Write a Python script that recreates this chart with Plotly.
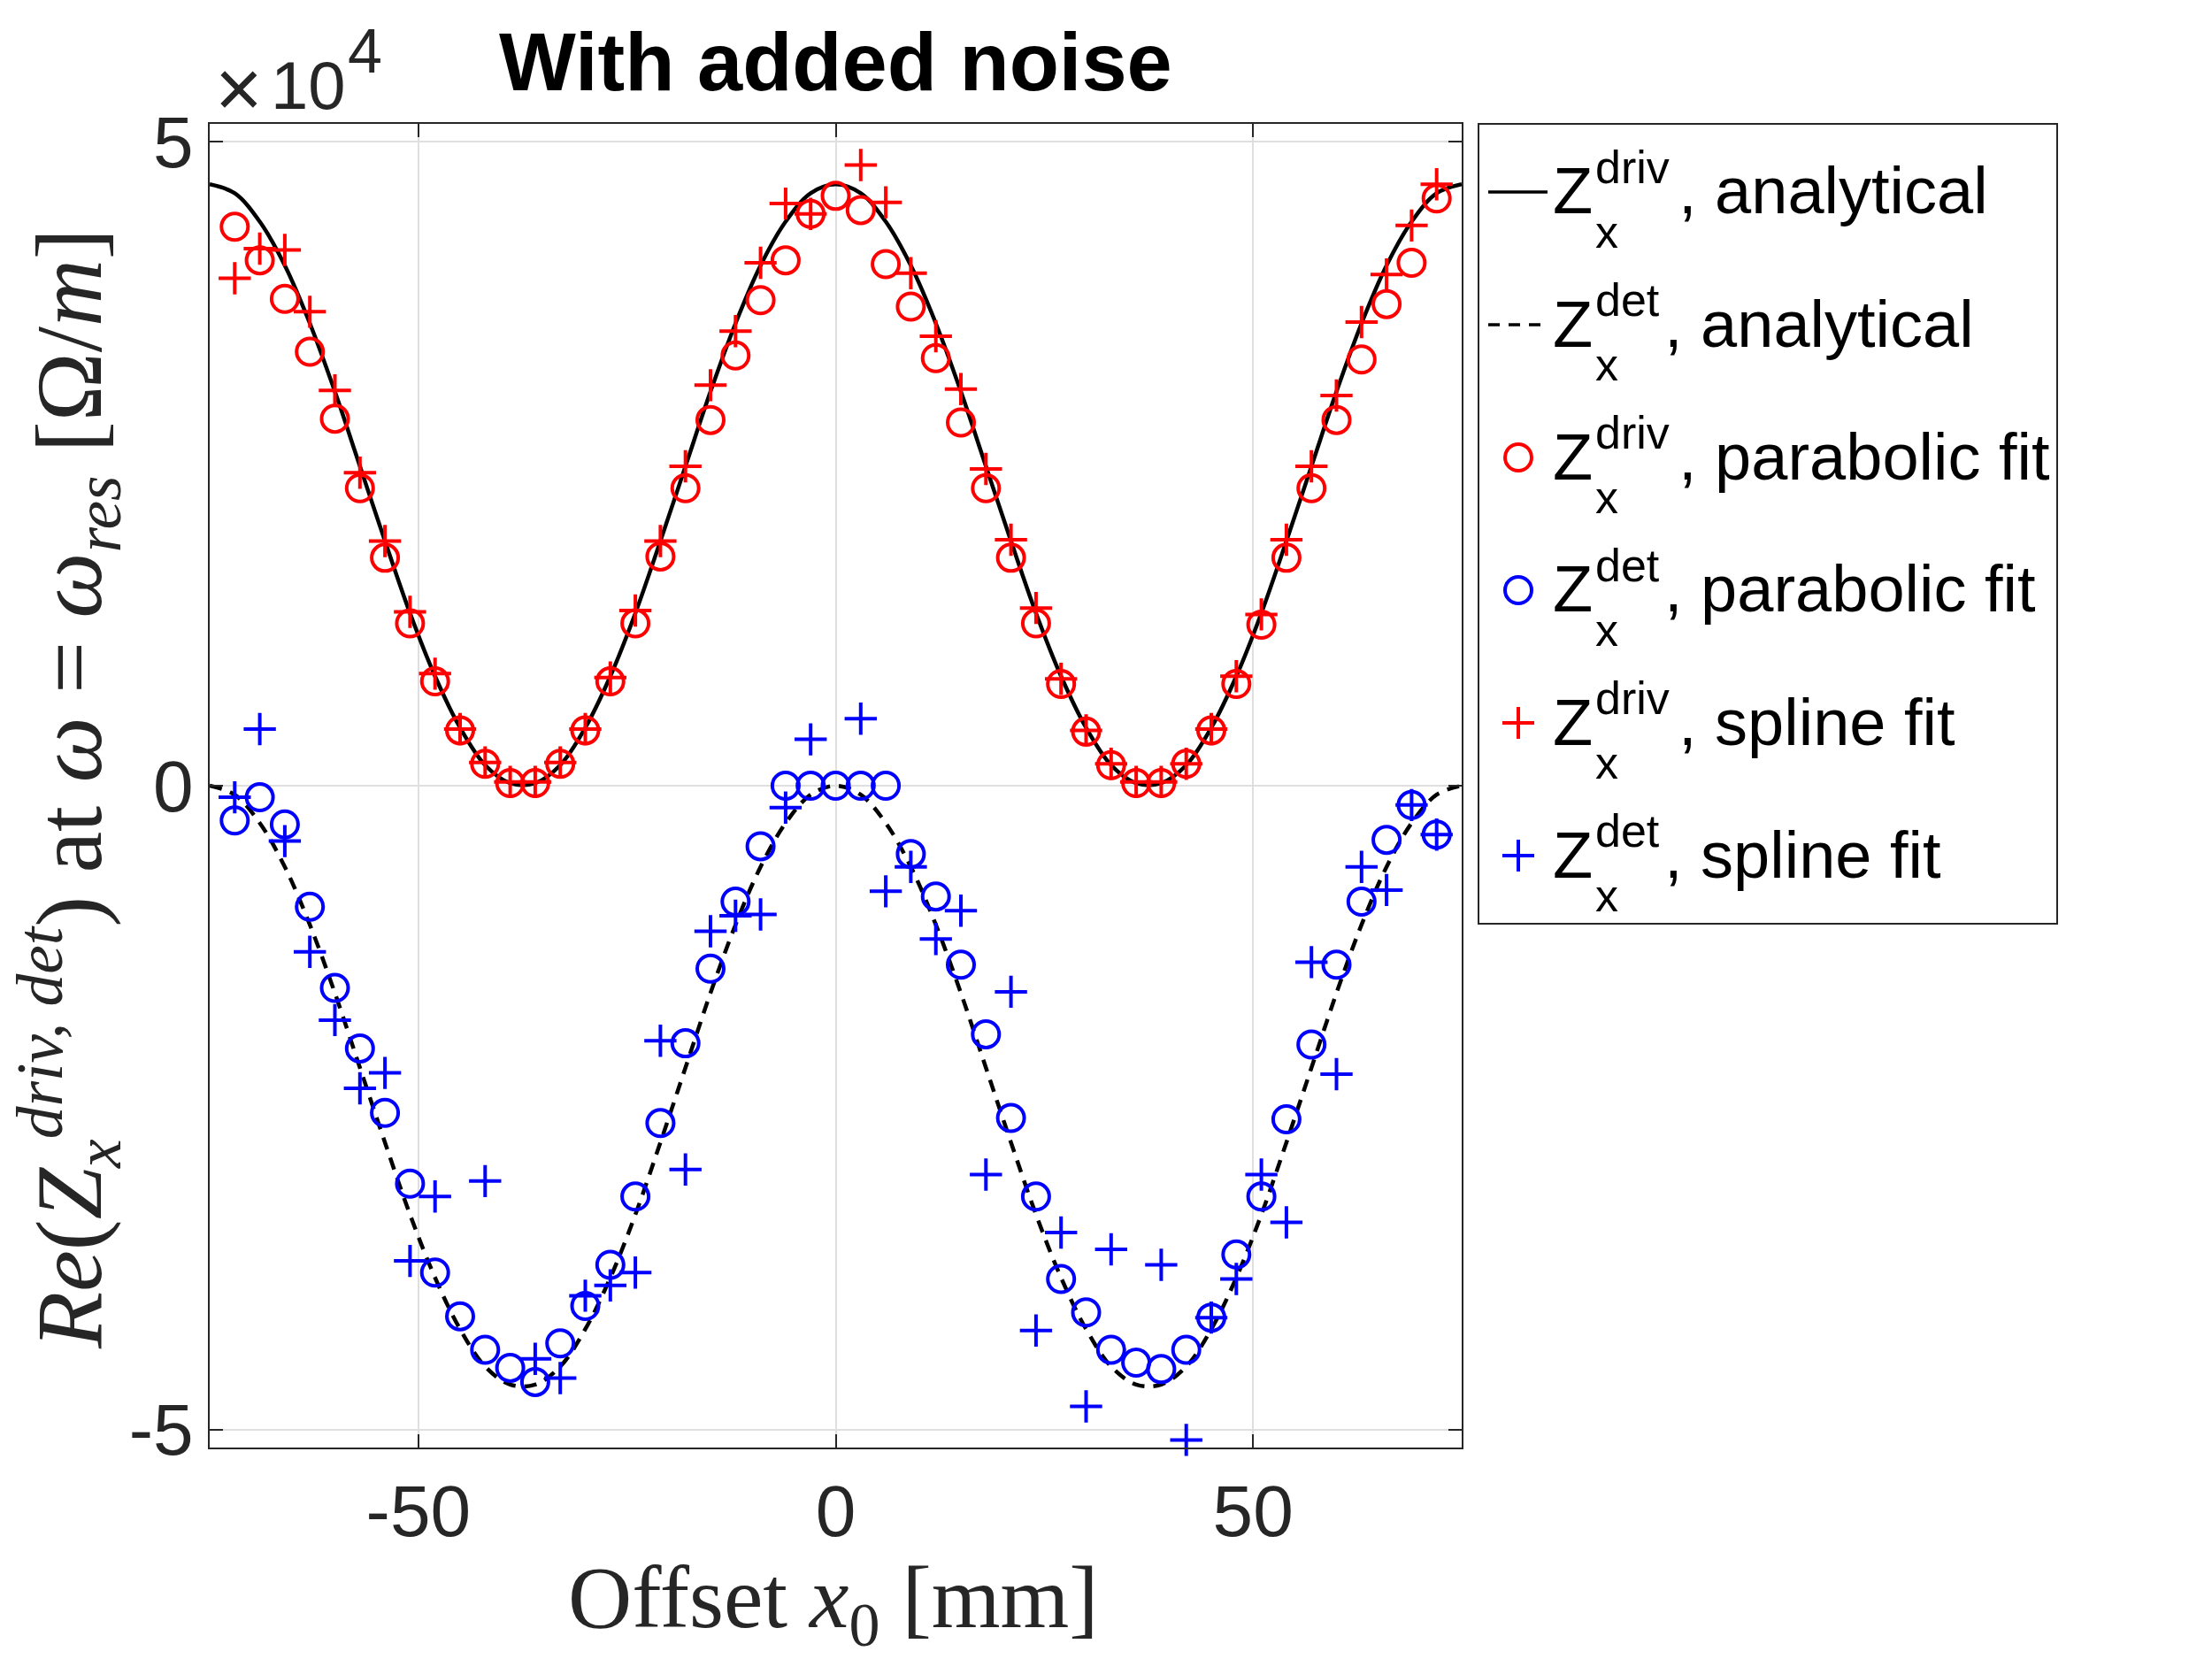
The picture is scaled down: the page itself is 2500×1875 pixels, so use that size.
import plotly.graph_objects as go

# ---------------- data ----------------
x_analytic = [-75, -72, -69, -66, -63, -60, -57, -54, -51, -48, -45, -42, -39, -36, -33, -30,
              -27, -24, -21, -18, -15, -12, -9, -6, -3, 0, 3, 6, 9, 12, 15, 18, 21, 24, 27,
              30, 33, 36, 39, 42, 45, 48, 51, 54, 57, 60, 63, 66, 69, 72, 75]
driv_analytic = [46700, 46000, 43800, 40400, 35900, 30600, 24800, 19000, 13400, 8500, 4500, 1600,
                 200, 200, 1600, 4500, 8500, 13400, 19000, 24800, 30600, 35900, 40400, 43800,
                 46000, 46700, 46000, 43800, 40400, 35900, 30600, 24800, 19000, 13400, 8500,
                 4500, 1600, 200, 200, 1600, 4500, 8500, 13400, 19000, 24800, 30600, 35900,
                 40400, 43800, 46000, 46700]
det_analytic = [0, -700, -2900, -6300, -10800, -16100, -21900, -27700, -33300, -38200, -42200,
                -45100, -46500, -46500, -45100, -42200, -38200, -33300, -27700, -21900, -16100,
                -10800, -6300, -2900, -700, 0, -700, -2900, -6300, -10800, -16100, -21900,
                -27700, -33300, -38200, -42200, -45100, -46500, -46500, -45100, -42200, -38200,
                -33300, -27700, -21900, -16100, -10800, -6300, -2900, -700, 0]

x_fit = [-72, -69, -66, -63, -60, -57, -54, -51, -48, -45, -42, -39, -36, -33, -30, -27, -24,
         -21, -18, -15, -12, -9, -6, -3, 0, 3, 6, 9, 12, 15, 18, 21, 24, 27, 30, 33, 36, 39,
         42, 45, 48, 51, 54, 57, 60, 63, 66, 69, 72]
driv_parabolic = [43400, 40800, 37800, 33700, 28500, 23100, 17700, 12600, 8100, 4300, 1700, 200,
                  200, 1700, 4300, 8100, 12600, 17800, 23100, 28400, 33400, 37700, 40800, 44400,
                  45800, 44700, 40500, 37200, 33200, 28200, 23100, 17700, 12600, 7900, 4200,
                  1600, 200, 200, 1700, 4300, 7900, 12500, 17700, 23100, 28400, 33100, 37400,
                  40600, 45600]
det_parabolic = [-2700, -900, -3000, -9400, -15700, -20400, -25400, -30900, -37800, -41200,
                 -43800, -45200, -46300, -43300, -40400, -37200, -31900, -26200, -20000, -14200,
                 -9000, -4700, 0, 0, 0, 0, 0, -5300, -8600, -13900, -19300, -25800, -31900,
                 -38300, -40900, -43800, -44800, -45300, -43800, -41300, -36400, -31900, -25900,
                 -20100, -13900, -9000, -4200, -1500, -3800]
driv_spline = [39400, 41700, 41600, 36800, 30700, 24300, 19000, 13500, 8700, 4400, 1800, 300,
               300, 1800, 4400, 8400, 13600, 19000, 24800, 31100, 35300, 40600, 45200, 44400,
               None, 48200, 45300, 39800, 34900, 30800, 24600, 19100, 13800, 8300, 4300, 1700,
               300, 300, 1700, 4400, 8500, 13300, 19100, 24800, 30300, 36000, 39700, 43500,
               46700]
det_spline = [-900, 4400, -4300, -12900, -18200, -23500, -22300, -36900, -31900, None, -30700,
              None, -44500, -46000, -39600, -38800, -37800, -19800, -29800, -11300, -10100,
              -10000, -1700, 3600, None, 5200, -8200, -6300, -11900, -9700, -30200, -16000,
              -42300, -34700, -48200, -36000, None, -37200, -50800, -41300, -38300, -30200,
              -33900, -13700, -22400, -6300, -8100, -1500, -3800]

series_names = ["Z_x^driv, analytical", "Z_x^det, analytical", "Z_x^driv, parabolic fit",
                "Z_x^det, parabolic fit", "Z_x^driv, spline fit", "Z_x^det, spline fit"]
legend_sup = ["driv", "det", "driv", "det", "driv", "det"]
legend_text = ["analytical", "analytical", "parabolic fit", "parabolic fit",
               "spline fit", "spline fit"]

x_tick_vals = [-50, 0, 50]
x_tick_text = ["-50", "0", "50"]
y_tick_vals = [-50000, 0, 50000]
y_tick_text = ["-5", "0", "5"]
x_range = [-75, 75]
y_range = [-51390, 51390]

# ---------------- layout / style constants (pixels) ----------------
W, H = 2500, 1875
PL, PR, PT, PB = 237, 1652, 140, 1636
SANS = "Liberation Sans, Arial, Helvetica, sans-serif"
SERIF = "Liberation Serif, Times New Roman, serif"
AX = "#262626"
RED, BLUE = "#FF0000", "#0000FF"
LW = 4.5      # analytical line width
MLW = 4       # marker line width


def fx(px):
    return px / W


def fy(py):
    return 1 - py / H


fig = go.Figure()

fig.add_trace(go.Scatter(x=x_analytic, y=driv_analytic, mode="lines", name=series_names[0],
                         line=dict(color="black", width=LW, shape="spline")))
fig.add_trace(go.Scatter(x=x_analytic, y=det_analytic, mode="lines", name=series_names[1],
                         line=dict(color="black", width=LW, shape="spline", dash="14px,10px")))
fig.add_trace(go.Scatter(x=x_fit, y=driv_parabolic, mode="markers", name=series_names[2],
                         cliponaxis=False,
                         marker=dict(symbol="circle-open", size=30, color=RED,
                                     line=dict(color=RED, width=MLW))))
fig.add_trace(go.Scatter(x=x_fit, y=det_parabolic, mode="markers", name=series_names[3],
                         cliponaxis=False,
                         marker=dict(symbol="circle-open", size=30, color=BLUE,
                                     line=dict(color=BLUE, width=MLW))))
fig.add_trace(go.Scatter(x=x_fit, y=driv_spline, mode="markers", name=series_names[4],
                         cliponaxis=False,
                         marker=dict(symbol="cross-thin-open", size=26, color=RED,
                                     line=dict(color=RED, width=MLW))))
fig.add_trace(go.Scatter(x=x_fit, y=det_spline, mode="markers", name=series_names[5],
                         cliponaxis=False,
                         marker=dict(symbol="cross-thin-open", size=26, color=BLUE,
                                     line=dict(color=BLUE, width=MLW))))

axis_common = dict(showline=True, linecolor=AX, linewidth=2, mirror="ticks",
                   ticks="inside", ticklen=15, tickwidth=2, tickcolor=AX, automargin=False,
                   showgrid=True, gridcolor="#dfdfdf", gridwidth=1.5, zeroline=False,
                   tickfont=dict(family=SANS, size=82, color=AX))

fig.update_layout(
    template="none",
    width=W, height=H, showlegend=False,
    paper_bgcolor="white", plot_bgcolor="white",
    margin=dict(l=0, r=0, t=0, b=0, pad=0, autoexpand=False),
    xaxis=dict(domain=[fx(PL), fx(PR)], range=x_range, tickmode="array",
               tickvals=x_tick_vals, ticktext=x_tick_text, **axis_common),
    yaxis=dict(domain=[fy(PB), fy(PT)], range=y_range, tickmode="array",
               tickvals=y_tick_vals, ticktext=y_tick_text, **axis_common),
)

ann = []
# title
ann.append(dict(text="<b>With added noise</b>", x=fx(944), y=fy(70), xanchor="center",
                yanchor="middle", font=dict(family=SANS, size=92, color="black")))
# exponent label (x10^4)
ann.append(dict(text="\u00d7", x=fx(270), y=fy(100), xanchor="center", yanchor="middle",
                font=dict(family=SANS, size=92, color=AX)))
ann.append(dict(text="10", x=fx(304), y=fy(97), xanchor="left", yanchor="middle",
                font=dict(family=SANS, size=76, color=AX)))
ann.append(dict(text="4", x=fx(391), y=fy(58), xanchor="left", yanchor="middle",
                font=dict(family=SANS, size=70, color=AX)))
# axis titles
ann.append(dict(text="Offset <i>x</i><sub>0</sub> [mm]", x=fx(942), y=fy(1812),
                xanchor="center", yanchor="middle",
                font=dict(family=SERIF, size=100, color=AX)))
ann.append(dict(text="<i>Re</i>(<i>Z</i><sub><i>x</i></sub><sup><i>driv, det</i></sup>) at "
                     "<i>\u03c9</i> = <i>\u03c9</i><sub><i>res</i></sub> [\u03a9/<i>m</i>]",
                x=fx(78), y=fy(892), xanchor="center", yanchor="middle", textangle=-90,
                font=dict(family=SERIF, size=105, color=AX)))

# ---------------- custom legend ----------------
LG_X0, LG_X1, LG_Y0, LG_Y1 = 1671, 2325, 140, 1044
ROW0, ROWSTEP = 242, 150
shapes = [dict(type="rect", xref="paper", yref="paper", x0=fx(LG_X0), x1=fx(LG_X1),
               y0=fy(LG_Y1), y1=fy(LG_Y0), line=dict(color=AX, width=2),
               fillcolor="white", layer="above")]
for i in range(6):
    b = ROW0 + ROWSTEP * i
    gy = b - 25
    ann.append(dict(text="Z", x=fx(1753), y=fy(b - 26), xanchor="left", yanchor="middle",
                    font=dict(family=SANS, size=74, color="black")))
    ann.append(dict(text=legend_sup[i], x=fx(1801), y=fy(b - 53), xanchor="left",
                    yanchor="middle", font=dict(family=SANS, size=52, color="black")))
    ann.append(dict(text="x", x=fx(1801), y=fy(b + 20), xanchor="left", yanchor="middle",
                    font=dict(family=SANS, size=52, color="black")))
    cx = 1895 if legend_sup[i] == "driv" else 1879
    ann.append(dict(text=", " + legend_text[i], x=fx(cx), y=fy(b - 26), xanchor="left",
                    yanchor="middle", font=dict(family=SANS, size=74, color="black")))
    if i in (0, 1):
        shapes.append(dict(type="line", xref="paper", yref="paper", x0=fx(1682), x1=fx(1749),
                           y0=fy(gy), y1=fy(gy), layer="above",
                           line=dict(color="black", width=3.5,
                                     dash="solid" if i == 0 else "13px,10px")))
    elif i in (2, 3):
        col = RED if i == 2 else BLUE
        shapes.append(dict(type="circle", xref="paper", yref="paper", x0=fx(1701),
                           x1=fx(1731), y0=fy(gy + 15), y1=fy(gy - 15), layer="above",
                           line=dict(color=col, width=MLW)))
    else:
        col = RED if i == 4 else BLUE
        shapes.append(dict(type="line", xref="paper", yref="paper", x0=fx(1698), x1=fx(1734),
                           y0=fy(gy), y1=fy(gy), layer="above", line=dict(color=col, width=MLW)))
        shapes.append(dict(type="line", xref="paper", yref="paper", x0=fx(1716), x1=fx(1716),
                           y0=fy(gy - 18), y1=fy(gy + 18), layer="above",
                           line=dict(color=col, width=MLW)))

for a in ann:
    a.update(xref="paper", yref="paper", showarrow=False)
fig.update_layout(annotations=ann, shapes=shapes)

fig.write_html("out.html")
